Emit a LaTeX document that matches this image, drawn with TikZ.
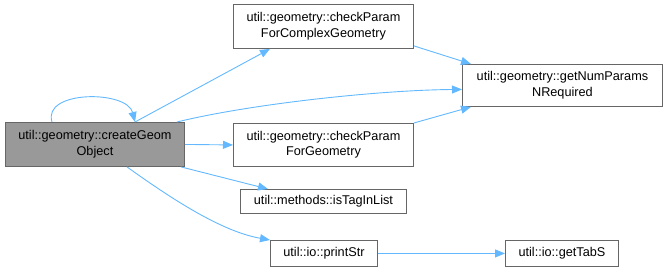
\documentclass[tikz,border=0pt]{standalone}
\usepackage{fontspec}
\setmainfont{Liberation Sans}
\usetikzlibrary{arrows.meta}
\definecolor{edgeblue}{HTML}{63B8FF}
\definecolor{boxgray}{HTML}{666666}
\definecolor{hilite}{HTML}{999999}
\begin{document}
\begin{tikzpicture}[x=1pt,y=-1pt,
  fn/.style={draw=boxgray, line width=0.9pt, fill=white, align=center,
    font=\fontsize{12.7}{15.5}\selectfont, inner sep=0pt, anchor=north west},
  call/.style={draw=edgeblue, line width=0.9pt,
    -{Triangle[length=10pt,width=8pt]}}]
\useasboundingbox (0,0) rectangle (667,272);
% function boxes, placed by their upper left corners
\node[fn, fill=hilite, minimum width=179pt, minimum height=44pt] (cg) at (5,122)
  {util::geometry::createGeom\\Object};
\node[fn, minimum width=180pt, minimum height=44pt] (cpc) at (233,4)
  {util::geometry::checkParam\\ForComplexGeometry};
\node[fn, minimum width=200pt, minimum height=42pt] (gnp) at (462,64)
  {util::geometry::getNumParams\\NRequired};
\node[fn, minimum width=180pt, minimum height=43pt] (cpg) at (233,123)
  {util::geometry::checkParam\\ForGeometry};
\node[fn, minimum width=166pt, minimum height=24pt] (tag) at (240,189)
  {util::methods::isTagInList};
\node[fn, minimum width=107pt, minimum height=26pt] (pst) at (270,240)
  {util::io::printStr};
\node[fn, minimum width=113pt, minimum height=26pt] (tab) at (505,240)
  {util::io::getTabS};
% call edges
\draw[call] ([xshift=47pt]cg.north west) .. controls +(-10,-32) and +(-8,-32) .. ([xshift=130pt]cg.north west);
\draw[call] ([xshift=130pt]cg.north west) -- ([xshift=37pt]cpc.south west);
\draw[call] ([xshift=172pt]cg.north west) .. controls (250,104) and (380,90) .. ([yshift=-4pt]gnp.west);
\draw[call] (cg.east) -- (cpg.west);
\draw[call] ([xshift=-4pt]cg.south east) -- ([xshift=28pt]tag.north west);
\draw[call] ([xshift=122pt]cg.south west) .. controls (180,205) and (225,232) .. (pst.north west);
\draw[call] ([yshift=3pt]cpc.south east) -- ([xshift=9pt]gnp.north west);
\draw[call] (cpg.north east) -- ([xshift=9pt]gnp.south west);
\draw[call] (pst.east) -- (tab.west);
\end{tikzpicture}
\end{document}
